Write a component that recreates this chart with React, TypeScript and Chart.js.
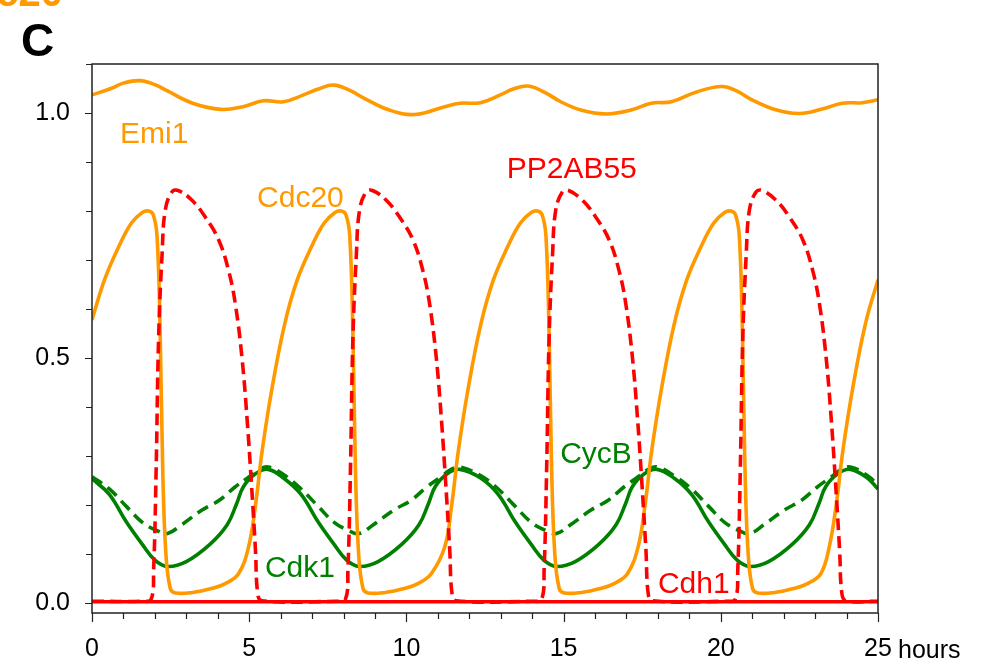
import React, { useEffect, useRef } from 'react';
import { Chart, registerables } from 'chart.js';

Chart.register(...registerables);

// ---- axis ticks ----
const xMajorTicks = [0, 5, 10, 15, 20, 25];
const xMinorTicks = [0, 1, 2, 3, 4, 5, 6, 7, 8, 9, 10, 11, 12, 13, 14, 15, 16, 17, 18, 19, 20, 21, 22, 23, 24, 25];
const yMajorTicks = [0, 0.5, 1.0];
const yMinorTicks = [0, 0.1, 0.2, 0.3, 0.4, 0.5, 0.6, 0.7, 0.8, 0.9, 1.0, 1.1];
const xUnit = 'hours';

// ---- series (time in hours, level) ----
const emi1T = [0, 0.6, 1.0, 1.52, 2.0, 2.4, 3.2, 4.09, 4.81, 5.45, 6.09, 6.73, 7.2, 7.69, 8.2, 8.66, 9.46, 10.26, 11.22, 11.7, 12.35, 12.99, 13.4, 13.87, 14.4, 14.91, 15.55, 16.35, 17.15, 17.79, 18.43, 19.23, 20.03, 20.5, 20.99, 21.78, 22.5, 23.22, 23.86, 24.5, 25];
const emi1V = [1.037, 1.05, 1.061, 1.066, 1.058, 1.045, 1.02, 1.0075, 1.013, 1.025, 1.023, 1.037, 1.049, 1.057, 1.046, 1.03, 1.006, 0.997, 1.013, 1.02, 1.021, 1.037, 1.049, 1.055, 1.042, 1.023, 1.006, 0.998, 1.006, 1.02, 1.023, 1.043, 1.054, 1.045, 1.027, 1.006, 0.999, 1.008, 1.02, 1.021, 1.027];

const cdc20T = [0, 0.4, 0.85, 1.25, 1.6, 1.8, 1.95, 2.07, 2.17, 2.25, 2.35, 2.49, 2.65, 3.2, 3.8, 4.24, 4.66,
  4.98, 5.2, 5.41, 5.73, 6.13, 6.53, 6.98, 7.38, 7.73,
  7.93, 8.08, 8.2, 8.3, 8.38, 8.48, 8.62, 8.78, 9.33, 9.93, 10.37, 10.79,
  11.22, 11.44, 11.65, 11.97, 12.37, 12.77, 13.22, 13.62, 13.97,
  14.17, 14.32, 14.44, 14.54, 14.62, 14.72, 14.86, 15.02, 15.57, 16.17, 16.61, 17.03,
  17.37, 17.59, 17.8, 18.12, 18.52, 18.92, 19.37, 19.77, 20.12,
  20.32, 20.47, 20.59, 20.69, 20.77, 20.87, 21.01, 21.17, 21.72, 22.32, 22.76, 23.18,
  23.45, 23.67, 23.88, 24.2, 24.6, 25.0];
const cdc20V = [0.578, 0.66, 0.727, 0.775, 0.797, 0.8, 0.792, 0.748, 0.544, 0.272, 0.101, 0.03, 0.021, 0.022, 0.03, 0.04, 0.06,
  0.115, 0.2, 0.31, 0.44, 0.57, 0.66, 0.727, 0.775, 0.797,
  0.8, 0.792, 0.748, 0.544, 0.272, 0.101, 0.03, 0.021, 0.022, 0.03, 0.04, 0.06,
  0.115, 0.2, 0.31, 0.44, 0.57, 0.66, 0.727, 0.775, 0.797,
  0.8, 0.792, 0.748, 0.544, 0.272, 0.101, 0.03, 0.021, 0.022, 0.03, 0.04, 0.06,
  0.115, 0.2, 0.31, 0.44, 0.57, 0.66, 0.727, 0.775, 0.797,
  0.8, 0.792, 0.748, 0.544, 0.272, 0.101, 0.03, 0.021, 0.022, 0.03, 0.04, 0.06,
  0.115, 0.2, 0.31, 0.44, 0.57, 0.66];

const pp2aT = [0, 1.58, 1.88, 1.96, 2.04, 2.12, 2.23, 2.33, 2.54, 2.74, 3.18, 3.6, 4.03, 4.35, 4.56, 4.77, 4.93, 5.07, 5.2, 5.27, 5.4,
  7.76, 8.06, 8.14, 8.22, 8.3, 8.41, 8.51, 8.72, 8.92, 9.36, 9.78, 10.21, 10.53, 10.74, 10.95, 11.11, 11.25, 11.38, 11.45, 11.58,
  14.0, 14.3, 14.38, 14.46, 14.54, 14.65, 14.75, 14.96, 15.16, 15.6, 16.02, 16.45, 16.77, 16.98, 17.19, 17.35, 17.49, 17.62, 17.69, 17.82,
  20.16, 20.46, 20.54, 20.62, 20.7, 20.81, 20.91, 21.12, 21.32, 21.76, 22.18, 22.61, 22.93, 23.14, 23.35, 23.51, 23.65, 23.78, 23.85, 23.98, 25];
const pp2aV = [0.004, 0.004, 0.008, 0.068, 0.272, 0.544, 0.713, 0.802, 0.839, 0.842, 0.822, 0.788, 0.741, 0.677, 0.61, 0.501, 0.378, 0.245, 0.107, 0.02, 0.005,
  0.004, 0.008, 0.068, 0.272, 0.544, 0.713, 0.802, 0.839, 0.842, 0.822, 0.788, 0.741, 0.677, 0.61, 0.501, 0.378, 0.245, 0.107, 0.02, 0.005,
  0.004, 0.008, 0.068, 0.272, 0.544, 0.713, 0.802, 0.839, 0.842, 0.822, 0.788, 0.741, 0.677, 0.61, 0.501, 0.378, 0.245, 0.107, 0.02, 0.005,
  0.004, 0.008, 0.068, 0.272, 0.544, 0.713, 0.802, 0.839, 0.842, 0.822, 0.788, 0.741, 0.677, 0.61, 0.501, 0.378, 0.245, 0.107, 0.02, 0.005, 0.004];

const cdk1T = [0, 0.55, 1.1, 1.6, 2.0, 2.4, 3.0, 3.75, 4.3, 4.6, 4.82, 5.2, 5.6,
  6.1, 6.65, 7.2, 7.7, 8.1, 8.5, 9.1, 9.85, 10.4, 10.7, 10.92, 11.3, 11.7,
  12.37, 12.92, 13.47, 13.97, 14.37, 14.77, 15.37, 16.12, 16.67, 16.97, 17.19, 17.57, 17.97,
  18.52, 19.07, 19.62, 20.12, 20.52, 20.92, 21.52, 22.27, 22.82, 23.12, 23.34, 23.72, 24.12,
  24.67, 25];
const cdk1V = [0.254, 0.222, 0.165, 0.12, 0.088, 0.075, 0.085, 0.12, 0.16, 0.203, 0.238, 0.264, 0.273,
  0.255, 0.222, 0.165, 0.12, 0.088, 0.075, 0.085, 0.12, 0.16, 0.203, 0.238, 0.264, 0.273,
  0.255, 0.222, 0.165, 0.12, 0.088, 0.075, 0.085, 0.12, 0.16, 0.203, 0.238, 0.264, 0.273,
  0.255, 0.222, 0.165, 0.12, 0.088, 0.075, 0.085, 0.12, 0.16, 0.203, 0.238, 0.264, 0.273,
  0.255, 0.233];

const cycBT = [0, 0.55, 1.1, 1.6, 2.1, 2.4, 2.85, 3.5, 4.05, 4.55, 5.0, 5.3, 5.6,
  6.1, 6.65, 7.2, 7.7, 8.2, 8.5, 8.95, 9.6, 10.15, 10.65, 11.1, 11.4, 11.7,
  12.37, 12.92, 13.47, 13.97, 14.47, 14.77, 15.22, 15.87, 16.42, 16.92, 17.37, 17.67, 17.97,
  18.52, 19.07, 19.62, 20.12, 20.62, 20.92, 21.37, 22.02, 22.57, 23.07, 23.52, 23.82, 24.12,
  24.67, 25];
const cycBV = [0.258, 0.233, 0.197, 0.165, 0.147, 0.142, 0.16, 0.19, 0.21, 0.237, 0.258, 0.272, 0.278,
  0.262, 0.233, 0.197, 0.165, 0.147, 0.142, 0.16, 0.19, 0.21, 0.237, 0.258, 0.272, 0.278,
  0.26, 0.233, 0.197, 0.165, 0.147, 0.142, 0.16, 0.19, 0.21, 0.237, 0.258, 0.272, 0.278,
  0.26, 0.233, 0.197, 0.165, 0.147, 0.142, 0.16, 0.19, 0.21, 0.237, 0.258, 0.272, 0.278,
  0.26, 0.241];

const cdh1T = [0, 5, 10, 15, 20, 25];
const cdh1V = [0.003, 0.003, 0.003, 0.003, 0.003, 0.003];

// ---- series labels (placed in data coordinates) ----
const seriesLabels = ['Emi1', 'Cdc20', 'PP2AB55', 'CycB', 'Cdk1', 'Cdh1'];
const seriesLabelX = [0.89, 5.25, 13.19, 14.89, 5.5, 18.0];
const seriesLabelY = [0.939, 0.809, 0.867, 0.285, 0.054, 0.02];

const ORANGE = '#FF9900';
const RED = '#FF0000';
const GREEN = '#008000';
const seriesLabelColors = [ORANGE, ORANGE, RED, GREEN, GREEN, RED];

const FONT = 'Arial, "Liberation Sans", Helvetica, sans-serif';

const pts = (t: number[], v: number[]) => t.map((x, i) => ({ x, y: v[i] }));

const decorPlugin = {
  id: 'decor',
  afterDraw(chart: any) {
    const { ctx, chartArea, scales } = chart;
    const xs = scales.x;
    const ys = scales.y;
    ctx.save();
    // frame
    ctx.strokeStyle = '#222';
    ctx.lineWidth = 1.5;
    ctx.strokeRect(chartArea.left, chartArea.top, chartArea.right - chartArea.left, chartArea.bottom - chartArea.top);
    // y ticks
    ctx.lineWidth = 1.2;
    ctx.beginPath();
    yMinorTicks.forEach((v) => {
      const py = Math.round(ys.getPixelForValue(v)) + 0.5;
      const major = yMajorTicks.some((m) => Math.abs(m - v) < 1e-9);
      ctx.moveTo(chartArea.left - (major ? 7 : 6), py);
      ctx.lineTo(chartArea.left, py);
    });
    // x ticks
    xMinorTicks.forEach((v) => {
      const px = Math.round(xs.getPixelForValue(v)) + 0.5;
      const major = xMajorTicks.includes(v);
      ctx.moveTo(px, chartArea.bottom);
      ctx.lineTo(px, chartArea.bottom + (major ? 9 : 6));
    });
    ctx.stroke();
    // unit
    ctx.fillStyle = '#000';
    ctx.font = `25px ${FONT}`;
    ctx.textAlign = 'left';
    ctx.textBaseline = 'alphabetic';
    ctx.fillText(xUnit, xs.getPixelForValue(25) + 20, 658);
    // series labels
    ctx.font = `30px ${FONT}`;
    seriesLabels.forEach((s, i) => {
      ctx.fillStyle = seriesLabelColors[i];
      ctx.fillText(s, xs.getPixelForValue(seriesLabelX[i]), ys.getPixelForValue(seriesLabelY[i]));
    });
    // panel letter
    ctx.fillStyle = '#000';
    ctx.font = `bold 46px ${FONT}`;
    ctx.fillText('C', 21, 56);
    // clipped title from panel above
    ctx.fillStyle = ORANGE;
    ctx.font = `bold 40px ${FONT}`;
    ctx.textAlign = 'right';
    ctx.fillText('Cdc20', 63, 6);
    ctx.restore();
  },
};

export default function App() {
  const ref = useRef<HTMLCanvasElement>(null);
  useEffect(() => {
    document.body.style.margin = '0';
    const canvas = ref.current!;
    const W = 3.6;
    const chart = new Chart(canvas, {
      type: 'line',
      data: {
        datasets: [
          { label: 'Cdh1', data: pts(cdh1T, cdh1V), borderColor: RED, borderWidth: W, pointRadius: 0, order: 0 },
          { label: 'PP2AB55', data: pts(pp2aT, pp2aV), borderColor: RED, borderWidth: W, borderDash: [12, 6], pointRadius: 0, order: 1 },
          { label: 'Cdc20', data: pts(cdc20T, cdc20V), borderColor: ORANGE, borderWidth: W, pointRadius: 0, order: 2 },
          { label: 'Emi1', data: pts(emi1T, emi1V), borderColor: ORANGE, borderWidth: W, pointRadius: 0, order: 3 },
          { label: 'CycB', data: pts(cycBT, cycBV), borderColor: GREEN, borderWidth: W, borderDash: [12, 7], pointRadius: 0, order: 4 },
          { label: 'Cdk1', data: pts(cdk1T, cdk1V), borderColor: GREEN, borderWidth: W, pointRadius: 0, order: 5 },
        ],
      },
      options: {
        responsive: false,
        animation: false,
        elements: { line: { tension: 0.4, fill: false, capBezierPoints: true } },
        layout: { padding: { left: 0, top: 64, right: 104, bottom: 0 } },
        plugins: { legend: { display: false }, tooltip: { enabled: false } },
        scales: {
          x: {
            type: 'linear',
            min: 0,
            max: 25,
            grid: { display: false, drawTicks: false },
            border: { display: false },
            afterBuildTicks: (s: any) => { s.ticks = xMajorTicks.map((v) => ({ value: v })); },
            afterFit: (s: any) => { s.height = 51; },
            ticks: {
              autoSkip: false,
              maxRotation: 0,
              padding: 21,
              color: '#000',
              font: { family: FONT, size: 25 },
              callback: (v: any) => String(v),
            },
          },
          y: {
            type: 'linear',
            min: -0.02,
            max: 1.1,
            grid: { display: false, drawTicks: false },
            border: { display: false },
            afterBuildTicks: (s: any) => { s.ticks = yMajorTicks.map((v) => ({ value: v })); },
            afterFit: (s: any) => { s.width = 92; },
            ticks: {
              padding: 22,
              color: '#000',
              font: { family: FONT, size: 25 },
              callback: (v: any) => Number(v).toFixed(1),
            },
          },
        },
      },
      plugins: [decorPlugin],
    } as any);
    return () => chart.destroy();
  }, []);
  return (
    <div style={{ width: 982, height: 664 }}>
      <canvas ref={ref} width={982} height={664} style={{ display: 'block', width: 982, height: 664 }} />
    </div>
  );
}
